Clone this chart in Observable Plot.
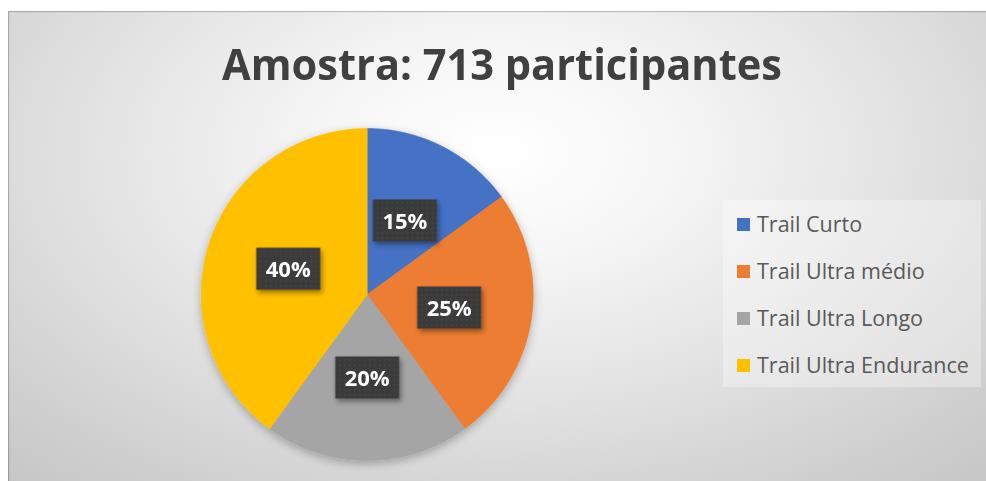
<!DOCTYPE html>
<html>
<head>
<meta charset="utf-8">
<script src="https://cdn.jsdelivr.net/npm/d3@7"></script>
<script src="https://cdn.jsdelivr.net/npm/@observablehq/plot@0.6"></script>
<style>
  html, body { margin: 0; padding: 0; background: #ffffff; }
  #wrap { position: relative; width: 986px; height: 481px; overflow: hidden; }
  #bg { position: absolute; left: 8px; top: 11px; right: 0; bottom: 0;
        background: radial-gradient(ellipse 75% 95% at 50% 30%, #ffffff 0%, #f7f7f7 22%, #e3e3e3 55%, #cfcfcf 85%, #c6c6c6 100%);
        box-shadow: inset 1px 1px 1px rgba(0,0,0,0.25); }
  #title { position: absolute; left: 0; top: 42px; white-space: nowrap;
           font-family: "Open Sans", sans-serif; font-weight: 700; font-size: 43px; line-height: 1;
           color: #404040; transform-origin: 0 0; }
  #legendBox { position: absolute; left: 723px; top: 200px; width: 258px; height: 187px;
               background: rgba(255,255,255,0.32); }
  .lg-row { position: absolute; left: 737px; white-space: nowrap;
            font-family: "Open Sans", sans-serif; font-size: 21.5px; line-height: 1; color: #595959; }
  .lg-sw { position: absolute; width: 13px; height: 13px; }
  #plot { position: absolute; left: 0; top: 0; }
</style>
</head>
<body>
<div id="wrap">
  <div id="bg"></div>
  <div id="plot"></div>
  <div id="legendBox"></div>
  <div id="title"></div>
</div>
<script>
const titleText = "Amostra: 713 participantes";
const categories = ["Trail Curto", "Trail Ultra médio", "Trail Ultra Longo", "Trail Ultra Endurance"];
const shares = [15, 25, 20, 40];
const colors = ["#4472C4", "#ED7D31", "#A5A5A5", "#FFC000"];

// Build slice outlines and label anchors from the data
const total = d3.sum(shares);
const sliceRows = [];
const labelRows = [];
let acc = 0;
categories.forEach((name, i) => {
  const a0 = acc / total * 2 * Math.PI;
  acc += shares[i];
  const a1 = acc / total * 2 * Math.PI;
  sliceRows.push({name, x: 0, y: 0});
  const n = Math.max(2, Math.ceil((a1 - a0) / (Math.PI / 360)));
  for (let k = 0; k <= n; k++) {
    const a = a0 + (a1 - a0) * k / n;
    sliceRows.push({name, x: Math.sin(a), y: Math.cos(a)});
  }
  sliceRows.push({name, x: 0, y: 0});
  const m = (a0 + a1) / 2;
  labelRows.push({name, x: 0.5 * Math.sin(m), y: 0.5 * Math.cos(m), label: shares[i] + "%"});
});

const boxSymbol = {
  draw(context) { context.rect(-32, -21, 64, 42); }
};

const svg = Plot.plot({
  width: 986,
  height: 481,
  margin: 0,
  x: {domain: [-1, 1], range: [200.7, 532.7], axis: null},
  y: {domain: [-1, 1], range: [460, 128], axis: null},
  color: {domain: categories, range: colors},
  style: {background: "transparent", overflow: "visible"},
  marks: [
    Plot.line(sliceRows, {x: "x", y: "y", z: "name", fill: "name", stroke: "name", strokeWidth: 0.6, curve: "linear"}),
    Plot.dot(labelRows, {x: "x", y: "y", symbol: boxSymbol, r: 10, fill: "#3c3c3c", stroke: null}),
    Plot.text(labelRows, {x: "x", y: "y", dy: 1, text: "label", fill: "white", fontSize: 22,
                          fontWeight: "bold", fontFamily: "Open Sans, sans-serif"})
  ]
});
document.getElementById("plot").appendChild(svg);

// Decorations: shadows and dotted label texture
const s = d3.select(svg);
const defs = s.insert("defs", ":first-child");
const pie = defs.append("filter").attr("id", "pieShadow").attr("x", "-20%").attr("y", "-20%").attr("width", "140%").attr("height", "140%");
pie.append("feDropShadow").attr("dx", 0).attr("dy", 3).attr("stdDeviation", 5).attr("flood-color", "#000").attr("flood-opacity", 0.28);
const lab = defs.append("filter").attr("id", "labShadow").attr("x", "-30%").attr("y", "-30%").attr("width", "160%").attr("height", "160%");
lab.append("feDropShadow").attr("dx", 2).attr("dy", 3).attr("stdDeviation", 2.5).attr("flood-color", "#000").attr("flood-opacity", 0.4);
const pat = defs.append("pattern").attr("id", "dotTex").attr("width", 5).attr("height", 5).attr("patternUnits", "userSpaceOnUse");
pat.append("rect").attr("width", 5).attr("height", 5).attr("fill", "#3a3a3a");
pat.append("circle").attr("cx", 2.5).attr("cy", 2.5).attr("r", 0.9).attr("fill", "#4e4e4e");
s.select('g[aria-label="line"]').attr("filter", "url(#pieShadow)");
s.select('g[aria-label="dot"]').attr("filter", "url(#labShadow)").selectAll("path").attr("fill", "url(#dotTex)");

// Title
const t = document.getElementById("title");
t.textContent = titleText;
const tw = t.getBoundingClientRect().width;
const k = 560 / tw;
t.style.transform = `scaleX(${k})`;
t.style.left = (502 - 280) + "px";

// Legend
const rowsY = [224, 271, 318, 365];
const wrap = document.getElementById("wrap");
categories.forEach((name, i) => {
  const sw = document.createElement("div");
  sw.className = "lg-sw";
  sw.style.left = "737px";
  sw.style.top = (rowsY[i] - 6.5) + "px";
  sw.style.background = colors[i];
  wrap.appendChild(sw);
  const tx = document.createElement("div");
  tx.className = "lg-row";
  tx.style.left = "757px";
  tx.style.top = (rowsY[i] + 7.7 - 19.1) + "px";
  tx.textContent = name;
  wrap.appendChild(tx);
});
</script>
</body>
</html>
